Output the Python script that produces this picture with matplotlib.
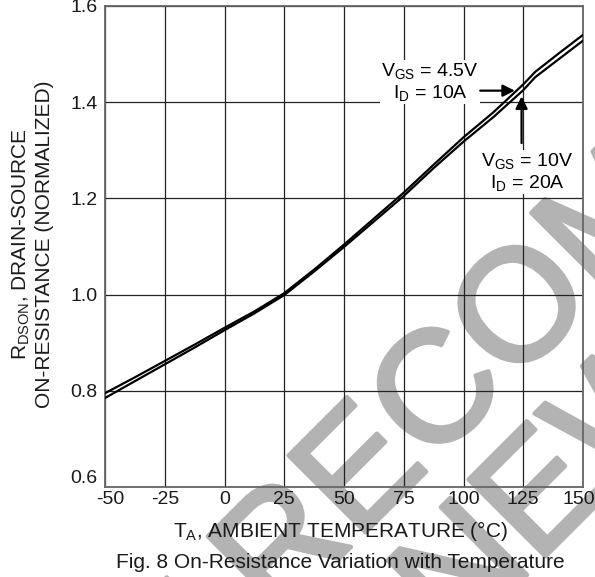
import matplotlib
matplotlib.use('Agg')
import matplotlib.pyplot as plt
import matplotlib.patheffects as pe
from matplotlib.transforms import ScaledTranslation

plt.rcParams['font.family'] = ['Liberation Sans', 'DejaVu Sans']
plt.rcParams['mathtext.fontset'] = 'custom'
plt.rcParams['mathtext.rm'] = 'Liberation Sans'
plt.rcParams['mathtext.it'] = 'Liberation Sans'

temp = [-50, -37.5, -25, -12.5, 0, 12.5, 25, 37.5, 50, 62.5, 75, 87.5, 100, 112.5, 125, 130, 140, 150]
r_vgs45 = [0.795, 0.828, 0.862, 0.896, 0.931, 0.965, 1.003, 1.052, 1.104, 1.158, 1.212, 1.270, 1.327, 1.379, 1.437, 1.463, 1.502, 1.540]
r_vgs10 = [0.785, 0.820, 0.855, 0.890, 0.926, 0.961, 0.999, 1.048, 1.099, 1.152, 1.205, 1.263, 1.318, 1.369, 1.425, 1.452, 1.490, 1.528]

xticks = [-50, -25, 0, 25, 50, 75, 100, 125, 150]
yticks = [0.6, 0.8, 1.0, 1.2, 1.4, 1.6]

fig = plt.figure(figsize=(5.95, 5.77), dpi=100)
ax = fig.add_axes([105 / 595, 90 / 577, 478 / 595, 481 / 577])
ax.patch.set_alpha(0)

# watermark behind everything
wm = dict(fontsize=114, color='#b3b3b3', rotation=45, rotation_mode='anchor',
          ha='left', va='baseline', zorder=-5,
          path_effects=[pe.withStroke(linewidth=3, foreground='#b3b3b3')])
fig.text(10 / 595, 1 - 888 / 577, 'NOT RECOMMENDED', **wm)
fig.text(188 / 595, 1 - 914 / 577, 'FOR NEW DESIGN', **wm)

ax.plot(temp, r_vgs45, color='black', lw=1.6, zorder=3)
ax.plot(temp, r_vgs10, color='black', lw=1.6, zorder=3)

ax.set_xlim(-50, 150)
ax.set_ylim(0.6, 1.6)
ax.set_xticks(xticks)
ax.set_yticks(yticks)
ax.set_xticklabels([str(t) for t in xticks])
ax.set_yticklabels(['%.1f' % v for v in yticks])
ax.tick_params(length=0, labelsize=14, colors='#1a1a1a')
ax.tick_params(axis='x', pad=3)
ax.tick_params(axis='y', pad=5.5)
ax.grid(True, color='#222222', lw=0.9)
for s in ax.spines.values():
    s.set_color('#666666')
    s.set_linewidth(1.3)

# nudge corner labels apart like the datasheet does
xl = ax.get_xticklabels()
xl[0].set_transform(xl[0].get_transform() + ScaledTranslation(5 / 100, 0, fig.dpi_scale_trans))
xl[-1].set_transform(xl[-1].get_transform() + ScaledTranslation(-4 / 100, 0, fig.dpi_scale_trans))
ax.get_yticklabels()[0].set_va('bottom')

ax.set_xlabel('T$_\\mathregular{A}$, AMBIENT TEMPERATURE (°C)', fontsize=15, color='#1a1a1a')
ax.xaxis.set_label_coords((340 - 105) / 478, -0.066)
ax.set_ylabel('R$_\\mathregular{DSON}$, DRAIN-SOURCE\nON-RESISTANCE (NORMALIZED)', fontsize=15,
              color='#1a1a1a', linespacing=1.2)
ax.yaxis.set_label_coords((54 - 105) / 478, 0.505)

box = dict(facecolor='white', edgecolor='none', pad=1)
ax.text(86, 1.442, 'V$_\\mathregular{GS}$ = 4.5V\nI$_\\mathregular{D}$ = 10A', ha='center', va='center',
        fontsize=14, bbox=box, zorder=4, linespacing=1.1)
ax.text(126.6, 1.255, 'V$_\\mathregular{GS}$ = 10V\nI$_\\mathregular{D}$ = 20A', ha='center', va='center',
        fontsize=14, bbox=box, zorder=4, linespacing=1.1)

arrow = dict(arrowstyle='-|>', color='black', lw=1.6, mutation_scale=18, shrinkA=0, shrinkB=0)
ax.annotate('', xy=(121.5, 1.424), xytext=(107, 1.424), arrowprops=arrow, zorder=5)
ax.annotate('', xy=(124.3, 1.412), xytext=(124.3, 1.315), arrowprops=arrow, zorder=5)

fig.text(340 / 595, 1 - 563 / 577, 'Fig. 8 On-Resistance Variation with Temperature',
         ha='center', va='center', fontsize=15, color='#1a1a1a')

fig.savefig('out.png', dpi=100)
